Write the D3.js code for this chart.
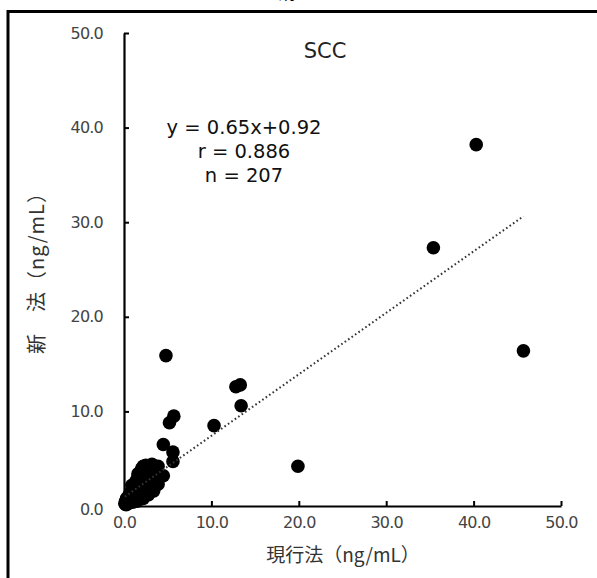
<!DOCTYPE html>
<html><head><meta charset="utf-8">
<script src="https://cdn.jsdelivr.net/npm/d3@7"></script>
<style>body{margin:0;background:#fff}svg{display:block}</style>
</head><body>
<script>
const xTicks = [0, 10, 20, 30, 40, 50];
const yTicks = [0, 10, 20, 30, 40, 50];
const currentMethod = [
  0.1,0.2,0.3,0.3,0.4,0.5,0.5,0.6,0.7,0.8,0.8,0.9,1.0,1.0,1.1,1.2,1.2,1.3,1.4,1.4,1.5,1.6,1.6,1.7,1.8,1.8,1.9,2.0,2.0,2.1,
  2.2,2.2,2.3,2.4,2.5,2.5,2.6,2.7,2.8,2.8,2.9,3.0,3.1,3.2,3.3,3.4,3.5,3.6,3.7,3.9,4.0,0.15,0.25,0.35,0.45,
  2.2,2.8,3.4,3.9,1.5,1.0,1.1,2.4,3.2,0.9,1.6,
  4.5,4.5,5.6,5.6,5.2,5.7,10.3,13.4,12.8,13.3,4.8,19.9,35.4,40.3,45.7
];
const newMethod = [
  0.3,0.5,0.3,0.8,0.5,0.9,0.4,1.2,0.7,1.5,0.9,0.6,1.9,1.2,0.8,2.3,1.5,1.0,2.7,1.8,1.2,3.1,2.2,1.4,3.5,2.6,1.7,3.9,2.9,2.0,
  4.2,3.3,2.4,1.8,4.3,3.6,2.8,2.1,4.1,3.2,2.5,3.8,1.9,3.0,4.3,2.4,3.5,4.0,2.9,4.2,3.4,0.2,0.15,0.6,0.25,
  0.8,1.2,1.6,2.3,0.5,0.4,2.1,4.2,4.4,2.2,3.4,
  3.2,6.5,5.7,4.7,8.8,9.5,8.5,10.6,12.6,12.8,15.9,4.2,27.3,38.2,16.4
];
const slope = 0.65, intercept = 0.92;
const statsLines = ["y = 0.65x+0.92", "r = 0.886", "n = 207"];
const panelTitle = "SCC";
const figTitle = "血清";
const xTitle = "現行法（ng/mL）";
const yTitle = "新　法（ng/mL）";

const W = 597, H = 578;
const cjk = "'Noto Sans CJK JP','Noto Sans',sans-serif";
const lat = "'DejaVu Sans','Noto Sans',sans-serif";
const svg = d3.select("body").append("svg").attr("width", W).attr("height", H);

// frame
svg.append("rect").attr("x", 8).attr("y", 11.5).attr("width", 620).attr("height", 620)
  .attr("fill", "none").attr("stroke", "#000").attr("stroke-width", 3);
svg.append("text").attr("x", 278).attr("y", -1).attr("text-anchor", "middle")
  .attr("font-family", cjk).attr("font-size", 18).attr("fill", "#000").text(figTitle);

const x = d3.scaleLinear().domain([0, 50]).range([124, 561]);
const y = d3.scaleLinear().domain([0, 50]).range([506, 33]);

const xAxis = svg.append("g").attr("transform", `translate(0,${y(0)})`)
  .call(d3.axisBottom(x).tickValues(xTicks).tickSizeInner(-5).tickSizeOuter(0).tickPadding(11).tickFormat(d3.format(".1f")));
const yAxis = svg.append("g").attr("transform", `translate(${x(0)},0)`)
  .call(d3.axisLeft(y).tickValues(yTicks).tickSizeInner(-5).tickSizeOuter(0).tickPadding(21).tickFormat(d3.format(".1f")));
[xAxis, yAxis].forEach(g => {
  g.select(".domain").attr("stroke", "#000").attr("stroke-width", 2.2);
  g.selectAll(".tick line").attr("stroke", "#000").attr("stroke-width", 2);
  g.selectAll(".tick text").attr("font-family", lat).attr("font-size", 16).attr("fill", "#444").attr("letter-spacing", "-0.8px");
});
yAxis.selectAll(".tick").filter(d => d === 0).select("text").attr("dy", "0.55em");

// points
const pts = currentMethod.map((v, i) => [v, newMethod[i]]);
svg.append("g").selectAll("circle").data(pts).join("circle")
  .attr("cx", d => x(d[0])).attr("cy", d => y(d[1])).attr("r", 6.8).attr("fill", "#000");

// trend line
const xr = [0.1, d3.max(currentMethod)];
svg.append("line")
  .attr("x1", x(xr[0])).attr("y1", y(slope * xr[0] + intercept))
  .attr("x2", x(xr[1])).attr("y2", y(slope * xr[1] + intercept))
  .attr("stroke", "#333").attr("stroke-width", 2).attr("stroke-dasharray", "1.6,2.6");

// annotations
svg.append("text").attr("x", 325).attr("y", 58).attr("text-anchor", "middle")
  .attr("font-family", lat).attr("font-size", 21).attr("fill", "#222").text(panelTitle);
statsLines.forEach((s, i) => {
  svg.append("text").attr("x", 244).attr("y", 134 + i * 24).attr("text-anchor", "middle")
    .attr("font-family", lat).attr("font-size", 19.5).attr("fill", "#111").text(s);
});

// axis titles
svg.append("text").attr("x", 343).attr("y", 562).attr("text-anchor", "middle")
  .attr("font-family", cjk).attr("font-size", 19).attr("fill", "#333").text(xTitle);
svg.append("text").attr("transform", "translate(44,268) rotate(-90)").attr("text-anchor", "middle")
  .attr("font-family", cjk).attr("font-size", 20).attr("letter-spacing", "1px").attr("fill", "#333").text(yTitle);
</script>
</body></html>
